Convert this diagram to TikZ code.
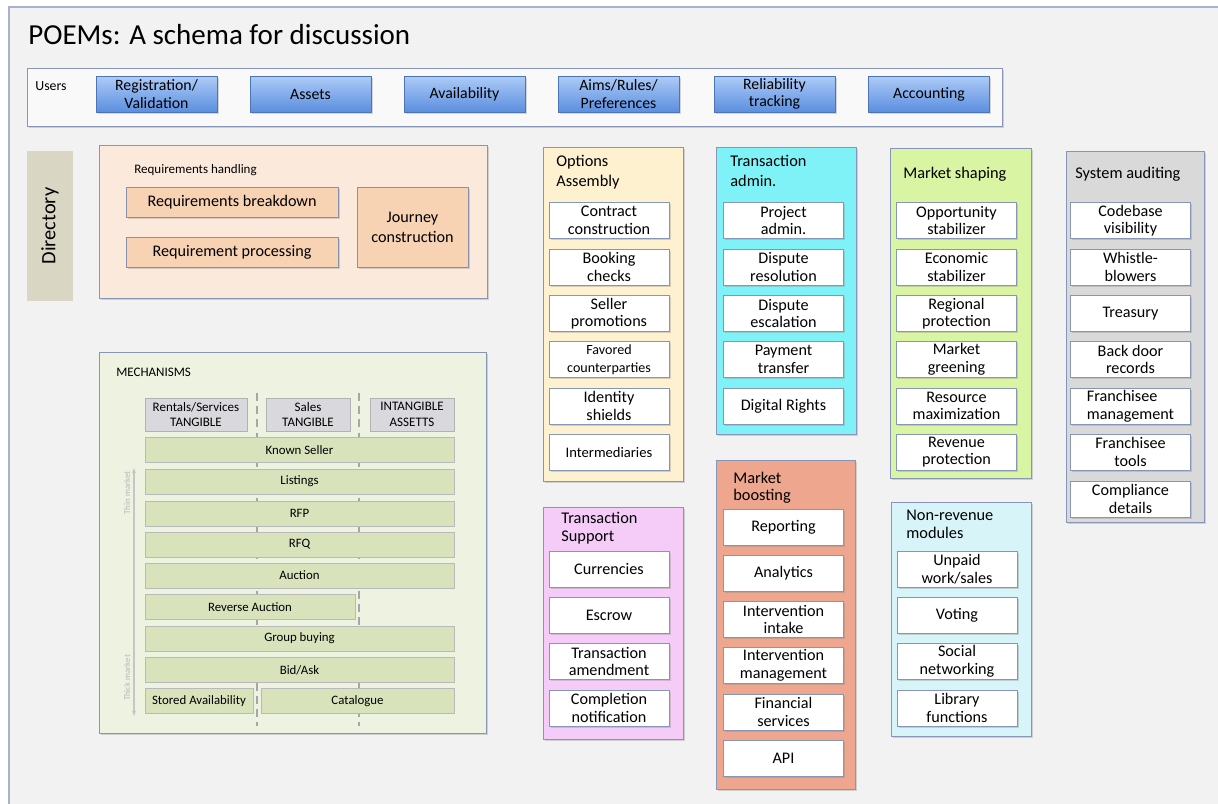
\documentclass[tikz,border=0pt]{standalone}
\usepackage{fontspec}
\setmainfont{Carlito}
\usepackage{xcolor}
\usepackage{tikz}
\usetikzlibrary{positioning,shadows,arrows.meta}

\definecolor{pagebg}{HTML}{F2F2F2}
\definecolor{frameedge}{HTML}{A7B3CD}
\definecolor{boxedge}{HTML}{8795B8}
\definecolor{btntop}{HTML}{ADCBF7}
\definecolor{btnbot}{HTML}{5B8FDF}
\definecolor{btnedge}{HTML}{4D74B4}
\definecolor{dirfill}{HTML}{D9D7C3}
\definecolor{reqbg}{HTML}{FBEADB}
\definecolor{reqfill}{HTML}{F7D2B3}
\definecolor{mechbg}{HTML}{EEF2E1}
\definecolor{barfill}{HTML}{D8E3BC}
\definecolor{headfill}{HTML}{D9D9DD}
\definecolor{optfill}{HTML}{FDF1D0}
\definecolor{tadmfill}{HTML}{7FF2F7}
\definecolor{shapefill}{HTML}{D9F5A4}
\definecolor{auditfill}{HTML}{D9D9D9}
\definecolor{tsupfill}{HTML}{F5CCF8}
\definecolor{boostfill}{HTML}{EEA68E}
\definecolor{nonrevfill}{HTML}{D7F4F8}

\tikzset{
  shadowed/.style={drop shadow={shadow xshift=0.9pt, shadow yshift=-0.9pt, opacity=0.3}},
  panel/.style={draw=boxedge, line width=0.5pt, shadowed},
  userbtn/.style={draw=btnedge, top color=btntop, bottom color=btnbot, minimum width=2.42cm,
    minimum height=0.72cm, align=center, inner sep=1pt, font=\fontsize{9}{10}\selectfont, shadowed},
  modbox/.style={draw=boxedge, fill=white, minimum width=2.4cm, minimum height=0.72cm,
    align=center, inner sep=1pt, font=\fontsize{9.2}{10}\selectfont, shadowed},
  reqbox/.style={draw=boxedge!80!gray, fill=reqfill, align=center, inner sep=1pt,
    font=\fontsize{9.2}{11.5}\selectfont, shadowed},
  coltitle/.style={anchor=north west, align=left, inner sep=0pt, font=\fontsize{9.3}{#1}\selectfont},
  coltitle/.default=11.5,
  tinylabel/.style={anchor=west, inner sep=0pt, font=\fontsize{7.4}{8}\selectfont},
  mechhead/.style={draw=gray!60, fill=headfill, minimum height=0.66cm, align=center, inner sep=0pt,
    font=\fontsize{7.4}{9}\selectfont},
  mechrow/.style={draw=gray!55, fill=barfill, minimum height=0.5cm, inner sep=0pt,
    font=\fontsize{7.3}{8}\selectfont},
  sepline/.style={gray!70, line width=0.9pt, dash pattern=on 4.5pt off 3pt},
  mktarrow/.style={gray!45, line width=0.6pt, {Stealth[length=3pt]}-{Stealth[length=3pt]}},
  mktlabel/.style={rotate=90, inner sep=0pt, text=gray!55, font=\fontsize{5}{6}\selectfont}
}

\begin{document}
\begin{tikzpicture}[x=0.02cm, y=-0.02cm]
  \useasboundingbox (0,0) rectangle (1218,804);
  \fill[white] (0,0) rectangle (1218,804);
  \draw[draw=frameedge, fill=pagebg, line width=0.7pt] (9,7) rectangle (1240,830);

  % Title
  \node[anchor=base west, inner sep=0pt, font=\fontsize{16.5}{20}\selectfont] (title) at (28,44.5) {POEMs: A schema for discussion};

  % Users bar
  \draw[panel, fill=white!55!pagebg] (27,68) rectangle (1002,126);
  \node[tinylabel, font=\fontsize{7.9}{9}\selectfont] (users) at (35,86) {Users};
  \node[userbtn] (regval) at (156.5,94) {Registration/\\Validation};
  \node[userbtn] (assets) at (310.5,94) {Assets};
  \node[userbtn] (avail) at (464.5,94) {Availability};
  \node[userbtn] (aims) at (618.5,94) {Aims/Rules/\\Preferences};
  \node[userbtn] (relia) at (774.5,94) {Reliability\\tracking};
  \node[userbtn] (acct) at (929,94) {Accounting};

  % Directory
  \node[fill=dirfill, rotate=90, minimum width=3cm, minimum height=0.92cm,
    font=\fontsize{11.6}{13}\selectfont] (dir) at (50,226) {Directory};

  % Requirements handling
  \draw[panel, fill=reqbg] (99,145) rectangle (487,298);
  \node[tinylabel] (reqlbl) at (134,170) {Requirements handling};
  \node[reqbox, minimum width=4.24cm, minimum height=0.6cm] (reqbd) at (232,202) {Requirements breakdown};
  \node[reqbox, minimum width=4.24cm, minimum height=0.6cm] (reqpr) at (232,252) {Requirement processing};
  \node[reqbox, minimum width=2.22cm, minimum height=1.6cm] (journey) at (412.5,227) {Journey\\construction};

  % Mechanisms
  \draw[panel, fill=mechbg] (99,352) rectangle (486,733);
  \node[tinylabel] (mechlbl) at (116,372) {MECHANISMS};
  \draw[sepline] (257,393) -- (257,726);
  \draw[sepline] (359,393) -- (359,726);
  \node[mechhead, minimum width=2.04cm] (rent) at (196,414.5) {Rentals/Services\\TANGIBLE};
  \node[mechhead, minimum width=1.68cm] (sales) at (308,414.5) {Sales\\TANGIBLE};
  \node[mechhead, minimum width=1.68cm] (intang) at (412,414.5) {INTANGIBLE\\ASSETTS};
  \node[mechrow, minimum width=6.18cm] (known) at (299.5,450) {Known Seller};
  \node[mechrow, minimum width=6.18cm] (listings) at (299.5,481.5) {Listings};
  \node[mechrow, minimum width=6.18cm] (rfp) at (299.5,513.5) {RFP};
  \node[mechrow, minimum width=6.18cm] (rfq) at (299.5,544.5) {RFQ};
  \node[mechrow, minimum width=6.18cm] (auction) at (299.5,575.5) {Auction};
  \node[mechrow, minimum width=4.2cm] (revauc) at (250,607) {Reverse Auction};
  \node[mechrow, minimum width=6.18cm] (group) at (299.5,638.5) {Group buying};
  \node[mechrow, minimum width=6.18cm] (bidask) at (299.5,670) {Bid/Ask};
  \node[mechrow, minimum width=2.16cm] (stored) at (199,701) {Stored Availability};
  \node[mechrow, minimum width=3.86cm] (catalog) at (357.5,701) {Catalogue};
  % thin / thick market arrow
  \coordinate (thin) at (134,468);
  \coordinate (thick) at (134,716);
  \draw[mktarrow] (thick) -- (thin);
  \node[mktlabel] (thinlbl) at (127,493) {Thin market};
  \node[mktlabel] (thicklbl) at (127,678) {Thick market};

  % Options Assembly
  \draw[panel, fill=optfill] (543,147) rectangle (683,481);
  \node[coltitle] (opttl) at (556,155) {Options\\Assembly};
  \node[modbox] (opt1) at (609,220.5) {Contract\\construction};
  \node[modbox] (opt2) at (609,267) {Booking\\checks};
  \node[modbox] (opt3) at (609,313.5) {Seller\\promotions};
  \node[modbox, font=\fontsize{8}{10}\selectfont] (opt4) at (609,359.5) {Favored\\counterparties};
  \node[modbox] (opt5) at (609,406) {Identity\\shields};
  \node[modbox, font=\fontsize{8.3}{10}\selectfont] (opt6) at (609,452) {Intermediaries};

  % Transaction admin.
  \draw[panel, fill=tadmfill] (716,147) rectangle (856,434);
  \node[coltitle] (tadmttl) at (730,154.5) {Transaction\\admin.};
  \node[modbox] (tadm1) at (783.5,220.5) {Project\\admin.};
  \node[modbox] (tadm2) at (783.5,267) {Dispute\\resolution};
  \node[modbox] (tadm3) at (783.5,313.5) {Dispute\\escalation};
  \node[modbox] (tadm4) at (783.5,359.5) {Payment\\transfer};
  \node[modbox] (tadm5) at (783.5,406) {Digital Rights};

  % Market shaping
  \draw[panel, fill=shapefill] (890,148) rectangle (1031,478);
  \node[coltitle] (shapettl) at (903,167) {Market shaping};
  \node[modbox] (shp1) at (956.5,220.5) {Opportunity\\stabilizer};
  \node[modbox] (shp2) at (956.5,267) {Economic\\stabilizer};
  \node[modbox] (shp3) at (956.5,313.5) {Regional\\protection};
  \node[modbox] (shp4) at (956.5,359.5) {Market\\greening};
  \node[modbox] (shp5) at (956.5,406) {Resource\\maximization};
  \node[modbox] (shp6) at (956.5,452) {Revenue\\protection};

  % System auditing
  \draw[panel, fill=auditfill] (1066,151) rectangle (1204,522);
  \node[coltitle] (audttl) at (1075,167) {System auditing};
  \node[modbox] (aud1) at (1130.5,220.5) {Codebase\\visibility};
  \node[modbox] (aud2) at (1130.5,267) {Whistle-\\blowers};
  \node[modbox] (aud3) at (1130.5,313.5) {Treasury};
  \node[modbox] (aud4) at (1130.5,359.5) {Back door\\records};
  \node[modbox, align=left] (aud5) at (1130.5,406) {Franchisee\\management};
  \node[modbox] (aud6) at (1130.5,452) {Franchisee\\tools};
  \node[modbox] (aud7) at (1130.5,499) {Compliance\\details};

  % Transaction Support
  \draw[panel, fill=tsupfill] (543,507) rectangle (683,739);
  \node[coltitle=10.2] (tsupttl) at (561,512) {Transaction\\Support};
  \node[modbox] (tsup1) at (609,569) {Currencies};
  \node[modbox] (tsup2) at (609,615.5) {Escrow};
  \node[modbox] (tsup3) at (609,661.5) {Transaction\\amendment};
  \node[modbox] (tsup4) at (609,708) {Completion\\notification};

  % Market boosting
  \draw[panel, fill=boostfill] (716,460) rectangle (855,789);
  \node[coltitle=9.8] (boostttl) at (733,472) {Market\\boosting};
  \node[modbox] (bst1) at (783.5,527) {Reporting};
  \node[modbox] (bst2) at (783.5,573.5) {Analytics};
  \node[modbox] (bst3) at (783.5,619.5) {Intervention\\intake};
  \node[modbox] (bst4) at (783.5,665.5) {Intervention\\management};
  \node[modbox] (bst5) at (783.5,712) {Financial\\services};
  \node[modbox] (bst6) at (783.5,758.5) {API};

  % Non-revenue modules
  \draw[panel, fill=nonrevfill] (891,502) rectangle (1031,736);
  \node[coltitle=9.8] (nonrevttl) at (906,510) {Non-revenue\\modules};
  \node[modbox] (nrv1) at (957,569) {Unpaid\\work/sales};
  \node[modbox] (nrv2) at (957,615.5) {Voting};
  \node[modbox] (nrv3) at (957,661.5) {Social\\networking};
  \node[modbox] (nrv4) at (957,708) {Library\\functions};
\end{tikzpicture}
\end{document}
